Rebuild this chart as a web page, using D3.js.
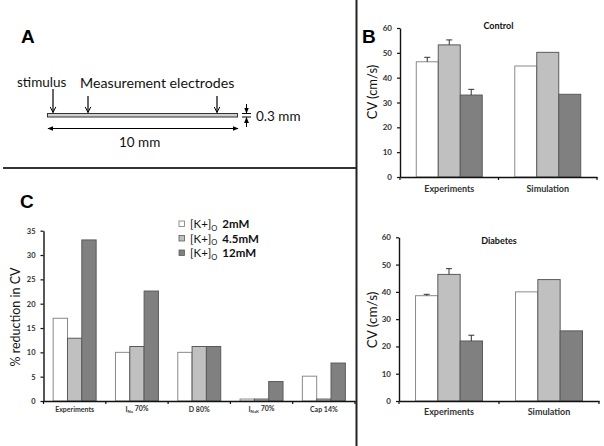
<!DOCTYPE html>
<html><head><meta charset="utf-8">
<script src="https://cdn.jsdelivr.net/npm/d3@7"></script>
<style>
html,body{margin:0;padding:0;background:#fff;}
svg{display:block;font-family:Lato,"Open Sans",sans-serif;}
</style></head>
<body>
<svg id="chart" width="604" height="446"></svg>
<script>
// ---------- data ----------
const bCategories = ["Experiments", "Simulation"];
const seriesKeys = ["2mM", "4.5mM", "12mM"];
const controlValues = [[46.4, 53.2, 33.0], [44.7, 50.2, 33.3]];
const controlErrors = [[1.8, 2.0, 2.3], [0, 0, 0]];
const diabetesValues = [[38.6, 46.4, 22.0], [40.0, 44.5, 25.7]];
const diabetesErrors = [[0.5, 2.1, 2.1], [0, 0, 0]];
const cvTicks = [0, 10, 20, 30, 40, 50, 60];

const cCategories = ["Experiments", "INa 70%", "D 80%", "INaK 70%", "Cap 14%"];
const cLabelMain = ["Experiments", "I", "D 80%", "I", "Cap 14%"];
const cLabelSub = ["", "Na", "", "NaK", ""];
const cLabelRest = ["", " 70%", "", " 70%", ""];
const reductionValues = [
  [17.0, 12.9, 33.1],
  [10.0, 11.2, 22.6],
  [10.0, 11.2, 11.2],
  [0.4, 0.4, 4.0],
  [5.1, 0.4, 7.8]
];
const reductionTicks = [0, 5, 10, 15, 20, 25, 30, 35];
const legendLabels = ["2mM", "4.5mM", "12mM"];

// ---------- styles ----------
const fills = ["#ffffff", "#c0c0c0", "#808080"];
const barStroke = "#5a5a5a";
const svg = d3.select("#chart");

// ---------- divider lines ----------
svg.append("line").attr("x1", 3).attr("x2", 356).attr("y1", 168).attr("y2", 168)
  .attr("stroke", "#333").attr("stroke-width", 2);
svg.append("line").attr("x1", 356.5).attr("x2", 356.5).attr("y1", 0).attr("y2", 446)
  .attr("stroke", "#222").attr("stroke-width", 2);

// ---------- panel letters ----------
function letter(t, x, y) {
  svg.append("text").attr("x", x).attr("y", y).text(t)
    .attr("font-family", "Liberation Sans, Arial, sans-serif")
    .attr("font-weight", "bold").attr("font-size", 19).attr("fill", "#000");
}
letter("A", 21, 43);
letter("B", 362, 43);
letter("C", 20, 208);

// ---------- panel A diagram ----------
const defs = svg.append("defs");
defs.append("marker").attr("id", "openArrow").attr("viewBox", "0 0 10 10")
  .attr("refX", 9).attr("refY", 5).attr("markerWidth", 7).attr("markerHeight", 7)
  .attr("orient", "auto-start-reverse").attr("markerUnits", "userSpaceOnUse")
  .append("path").attr("d", "M1,1 L9,5 L1,9").attr("fill", "none").attr("stroke", "#000").attr("stroke-width", 1.4);
defs.append("marker").attr("id", "solidArrow").attr("viewBox", "0 0 10 10")
  .attr("refX", 9).attr("refY", 5).attr("markerWidth", 6).attr("markerHeight", 6)
  .attr("orient", "auto-start-reverse").attr("markerUnits", "userSpaceOnUse")
  .append("path").attr("d", "M0,1 L10,5 L0,9 Z").attr("fill", "#000");

const A = svg.append("g").attr("font-family", "Lato, 'Open Sans', sans-serif").attr("font-size", 13.5).attr("fill", "#111");
A.append("text").attr("x", 17).attr("y", 87).text("stimulus");
A.append("text").attr("x", 80).attr("y", 88).attr("font-size", 14.2).text("Measurement electrodes");
A.append("rect").attr("x", 47.5).attr("y", 113.5).attr("width", 190).attr("height", 3.5)
  .attr("fill", "#d0d0d0").attr("stroke", "#333").attr("stroke-width", 1);
[[53, 89], [88, 96], [217, 96]].forEach(([x, y0]) => {
  A.append("line").attr("x1", x).attr("x2", x).attr("y1", y0).attr("y2", 112.5)
    .attr("stroke", "#000").attr("stroke-width", 1.2).attr("marker-end", "url(#openArrow)");
});
// thickness indicator
A.append("line").attr("x1", 242).attr("x2", 251).attr("y1", 113.5).attr("y2", 113.5).attr("stroke", "#000").attr("stroke-width", 1);
A.append("line").attr("x1", 242).attr("x2", 251).attr("y1", 117).attr("y2", 117).attr("stroke", "#000").attr("stroke-width", 1);
A.append("line").attr("x1", 246.5).attr("x2", 246.5).attr("y1", 104).attr("y2", 113).attr("stroke", "#000").attr("stroke-width", 1).attr("marker-end", "url(#solidArrow)");
A.append("line").attr("x1", 246.5).attr("x2", 246.5).attr("y1", 127).attr("y2", 117.5).attr("stroke", "#000").attr("stroke-width", 1).attr("marker-end", "url(#solidArrow)");
A.append("text").attr("x", 256).attr("y", 121).text("0.3 mm");
// length arrow
A.append("line").attr("x1", 48).attr("x2", 238).attr("y1", 128.5).attr("y2", 128.5)
  .attr("stroke", "#000").attr("stroke-width", 1).attr("marker-start", "url(#solidArrow)").attr("marker-end", "url(#solidArrow)");
A.append("text").attr("x", 119).attr("y", 147).text("10 mm");

// ---------- grouped bar chart helper ----------
function groupedBars(opts) {
  const g = svg.append("g");
  const x = d3.scaleBand().domain(opts.categories).range([opts.x0, opts.x1]).paddingInner(0).paddingOuter(0);
  const xs = d3.scaleBand().domain(seriesKeys).range([0, x.bandwidth()]).paddingInner(0).paddingOuter(opts.outer);
  const y = d3.scaleLinear().domain(opts.domain).range([opts.y0, opts.yTop]);

  // bars
  opts.categories.forEach((cat, i) => {
    const gg = g.append("g").attr("transform", `translate(${x(cat)},0)`);
    gg.selectAll("rect").data(opts.values[i]).join("rect")
      .attr("x", (d, j) => xs(seriesKeys[j]))
      .attr("y", d => y(d))
      .attr("width", xs.bandwidth())
      .attr("height", d => y(0) - y(d))
      .attr("fill", (d, j) => fills[j])
      .attr("stroke", (d, j) => j === 0 ? "#8a8a8a" : barStroke)
      .attr("stroke-width", 1);
    if (opts.errors) {
      opts.errors[i].forEach((e, j) => {
        if (!e) return;
        const cx = xs(seriesKeys[j]) + xs.bandwidth() / 2;
        const v = opts.values[i][j];
        gg.append("line").attr("x1", cx).attr("x2", cx).attr("y1", y(v)).attr("y2", y(v + e)).attr("stroke", "#333").attr("stroke-width", 1);
        gg.append("line").attr("x1", cx - 3).attr("x2", cx + 3).attr("y1", y(v + e)).attr("y2", y(v + e)).attr("stroke", "#333").attr("stroke-width", 1);
      });
    }
  });

  // y axis
  const ya = g.append("g").attr("transform", `translate(${opts.x0},0)`)
    .call(d3.axisLeft(y).tickValues(opts.ticks).tickSize(3).tickSizeOuter(0).tickPadding(opts.yPad || 5));
  ya.select(".domain").attr("stroke", "#111").attr("stroke-width", 1.4);
  ya.selectAll(".tick line").attr("stroke", "#111").attr("stroke-width", 1.2);
  ya.selectAll(".tick text").attr("font-family", "Lato, sans-serif").attr("font-weight", "bold")
    .attr("font-size", opts.tickFont).attr("fill", "#333");

  // x axis
  const xa = g.append("g").attr("transform", `translate(0,${opts.y0})`)
    .call(d3.axisBottom(x).tickSize(0).tickPadding(opts.xPad).tickFormat(() => ""));
  xa.select(".domain").attr("stroke", "#111").attr("stroke-width", 1.4);
  const bounds = opts.categories.map(c => x(c)).concat([x(opts.categories[opts.categories.length - 1]) + x.bandwidth()]);
  xa.selectAll("line.bound").data(bounds).join("line").attr("class", "bound")
    .attr("x1", d => d).attr("x2", d => d).attr("y1", 0).attr("y2", 3).attr("stroke", "#111").attr("stroke-width", 1.2);
  const labels = xa.selectAll(".tick text");
  labels.attr("font-family", "Lato, sans-serif").attr("font-weight", "bold").attr("font-size", opts.xFont).attr("fill", "#333");
  labels.each(function (d, i) {
    const t = d3.select(this);
    t.text(null);
    if (opts.labelMain) {
      t.append("tspan").text(opts.labelMain[i]);
      if (opts.labelSub[i]) {
        t.append("tspan").attr("font-size", opts.xFont * 0.62).attr("dy", "0.3em").text(opts.labelSub[i]);
        t.append("tspan").attr("dy", "-0.3em").text(opts.labelRest[i]);
      }
    } else {
      t.text(d);
    }
  });

  // y label
  if (opts.yLabel) {
    g.append("text").attr("transform", `translate(${opts.yLabelX},${opts.yLabelY}) rotate(-90)`)
      .attr("text-anchor", "middle").attr("font-family", "Lato, sans-serif")
      .attr("font-size", opts.yLabelFont).attr("fill", "#111").text(opts.yLabel);
  }
  if (opts.title) {
    g.append("text").attr("x", (opts.x0 + opts.x1) / 2).attr("y", opts.titleY).attr("text-anchor", "middle")
      .attr("font-family", "Lato, sans-serif").attr("font-weight", "bold").attr("font-size", 9).attr("fill", "#111").text(opts.title);
  }
  return { x, y };
}

// Panel B top: Control
groupedBars({
  categories: bCategories, values: controlValues, errors: controlErrors,
  x0: 400, x1: 597, y0: 177, yTop: 28, domain: [0, 60], ticks: cvTicks, outer: 0.74,
  tickFont: 8, xFont: 9, xPad: 9, yLabel: "CV (cm/s)", yLabelX: 377, yLabelY: 92, yLabelFont: 13,
  title: "Control", titleY: 29
});
// Panel B bottom: Diabetes
groupedBars({
  categories: bCategories, values: diabetesValues, errors: diabetesErrors,
  x0: 399, x1: 599, y0: 401, yTop: 237.3, domain: [0, 60], ticks: cvTicks, outer: 0.74,
  tickFont: 8, xFont: 9, xPad: 8, yLabel: "CV (cm/s)", yLabelX: 377, yLabelY: 320, yLabelFont: 13.5,
  title: "Diabetes", titleY: 244
});
// Panel C
groupedBars({
  categories: cCategories, values: reductionValues, errors: null,
  x0: 43.5, x1: 355, y0: 401, yTop: 230.7, domain: [0, 35], ticks: reductionTicks, outer: 0.675,
  tickFont: 7.5, xFont: 7, xPad: 6, yLabel: "% reduction in CV", yLabelX: 20, yLabelY: 317, yLabelFont: 12.5,
  labelMain: cLabelMain, labelSub: cLabelSub, labelRest: cLabelRest
});

// Legend
const leg = svg.append("g").attr("font-family", "Lato, sans-serif").attr("fill", "#111");
legendLabels.forEach((lab, i) => {
  const yy = 224 + i * 14.5;
  leg.append("rect").attr("x", 179).attr("y", yy - 3).attr("width", 5.5).attr("height", 5.5)
    .attr("fill", fills[i]).attr("stroke", i === 0 ? "#777" : barStroke).attr("stroke-width", 0.8);
  const t = leg.append("text").attr("x", 190).attr("y", yy + 4).attr("font-size", 11.5);
  t.append("tspan").text("[K+]");
  t.append("tspan").attr("font-size", 7.5).attr("dy", 2.5).text("O");
  t.append("tspan").attr("dy", -2.5).attr("dx", 5).attr("font-weight", "bold").text(lab);
});
</script>
</body></html>
